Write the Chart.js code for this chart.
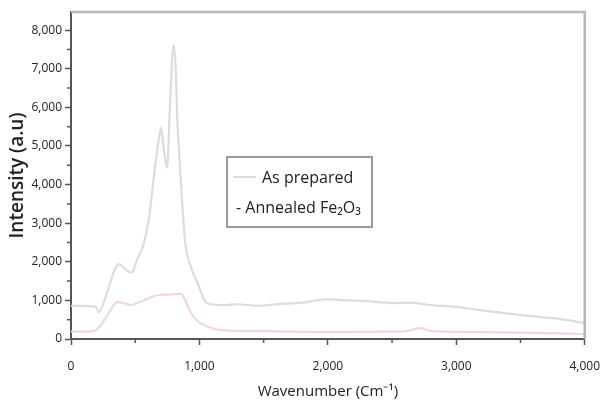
<!DOCTYPE html>
<html>
<head>
<meta charset="utf-8">
<script src="https://cdn.jsdelivr.net/npm/chart.js@4"></script>
<style>
  html, body { margin: 0; padding: 0; background: #fff; }
  #wrap { width: 614px; height: 406px; }
</style>
</head>
<body>
<div id="wrap"><canvas id="spectrum" width="614" height="406"></canvas></div>
<script>
// As prepared
const asPrepX = [0, 100, 190, 216, 260, 300, 340, 374, 420, 471, 520, 565, 610, 656, 690, 702, 720, 748, 770, 790, 800, 815, 830, 847, 870, 893, 930, 985, 1038, 1084, 1200, 1300, 1450, 1600, 1800, 1992, 2150, 2298, 2496, 2641, 2800, 2992, 3200, 3504, 3800, 4000];
const asPrepY = [860, 860, 840, 690, 1000, 1400, 1800, 1940, 1820, 1720, 2100, 2450, 3200, 4500, 5300, 5470, 5000, 4430, 6000, 7400, 7620, 7000, 5500, 4560, 3300, 2400, 1900, 1450, 1010, 900, 880, 900, 860, 900, 940, 1030, 1000, 985, 930, 940, 880, 830, 740, 620, 520, 410];

// Annealed Fe2O3
const annealX = [0, 100, 170, 230, 300, 360, 420, 466, 550, 680, 760, 855, 890, 930, 970, 1008, 1115, 1300, 1600, 2000, 2400, 2600, 2718, 2800, 3200, 3600, 4000];
const annealY = [190, 190, 200, 350, 700, 960, 920, 880, 980, 1140, 1150, 1170, 1000, 700, 520, 410, 260, 210, 200, 180, 190, 200, 280, 210, 180, 160, 130];

const xTicks = [0, 1000, 2000, 3000, 4000];
const yTicks = [0, 1000, 2000, 3000, 4000, 5000, 6000, 7000, 8000];
const xMinor = [500, 1500, 2500, 3500];
const yMinor = [500, 1500, 2500, 3500, 4500, 5500, 6500, 7500];

const seriesNames = ['As prepared', 'Annealed Fe\u2082O\u2083'];

function toPoints(xs, ys) {
  return xs.map((x, i) => ({ x: x, y: ys[i] }));
}

const fmt = v => Number(v).toLocaleString('en-US');

// frame, minor ticks and the boxed legend
const extras = {
  id: 'extras',
  afterDraw(chart) {
    const { ctx, chartArea: a, scales } = chart;
    ctx.save();

    ctx.strokeStyle = '#b8b8b8';
    ctx.lineWidth = 2.5;
    ctx.beginPath();
    ctx.moveTo(a.left, a.top);
    ctx.lineTo(a.right, a.top);
    ctx.lineTo(a.right, a.bottom);
    ctx.stroke();

    ctx.strokeStyle = '#555';
    ctx.lineWidth = 1.5;
    ctx.beginPath();
    xMinor.forEach(v => {
      const px = scales.x.getPixelForValue(v);
      ctx.moveTo(px, a.bottom);
      ctx.lineTo(px, a.bottom + 4);
    });
    yMinor.forEach(v => {
      const py = scales.y.getPixelForValue(v);
      ctx.moveTo(a.left, py);
      ctx.lineTo(a.left - 4, py);
    });
    ctx.stroke();

    // legend box
    const bx = 227, by = 157, bw = 145, bh = 70;
    ctx.strokeStyle = '#9a9a9a';
    ctx.lineWidth = 2;
    ctx.strokeRect(bx, by, bw, bh);

    ctx.font = '16px "Open Sans", "DejaVu Sans", sans-serif';
    ctx.fillStyle = '#222';
    ctx.textBaseline = 'middle';
    ctx.textAlign = 'left';

    ctx.strokeStyle = chart.data.datasets[0].borderColor;
    ctx.lineWidth = 2;
    ctx.beginPath();
    ctx.moveTo(bx + 6, by + 20);
    ctx.lineTo(bx + 29, by + 20);
    ctx.stroke();
    ctx.fillText(chart.data.datasets[0].label, bx + 35, by + 21);

    ctx.fillText('- ' + chart.data.datasets[1].label, bx + 9, by + 51);

    ctx.restore();
  }
};

new Chart(document.getElementById('spectrum'), {
  type: 'line',
  data: {
    datasets: [
      {
        label: seriesNames[0],
        data: toPoints(asPrepX, asPrepY),
        borderColor: '#dcdcdc',
        borderWidth: 2.2,
        pointRadius: 0,
        cubicInterpolationMode: 'monotone'
      },
      {
        label: seriesNames[1],
        data: toPoints(annealX, annealY),
        borderColor: '#f0d8d8',
        borderWidth: 2.2,
        pointRadius: 0,
        cubicInterpolationMode: 'monotone'
      }
    ]
  },
  options: {
    responsive: false,
    animation: false,
    layout: { padding: { left: 0, top: 12, right: 17, bottom: 0 } },
    plugins: {
      legend: { display: false },
      tooltip: { enabled: false }
    },
    scales: {
      x: {
        type: 'linear',
        min: 0,
        max: 4000,
        afterFit: s => { s.height = 67; },
        afterBuildTicks: s => { s.ticks = xTicks.map(v => ({ value: v })); },
        border: { color: '#555', width: 2 },
        grid: { drawOnChartArea: false, tickLength: 6, tickColor: '#555', tickWidth: 1.5 },
        ticks: {
          padding: 14,
          color: '#222',
          font: { family: '"Open Sans", sans-serif', size: 12 },
          callback: v => fmt(v),
          maxRotation: 0
        },
        title: {
          display: true,
          text: 'Wavenumber (Cm\u207B\u00B9)',
          color: '#222',
          font: { family: '"Open Sans", sans-serif', size: 15 },
          padding: { top: 0, bottom: 5 }
        }
      },
      y: {
        min: 0,
        max: 8470,
        afterFit: s => { s.width = 71; },
        afterBuildTicks: s => { s.ticks = yTicks.map(v => ({ value: v })); },
        border: { color: '#555', width: 2 },
        grid: { drawOnChartArea: false, tickLength: 6, tickColor: '#555', tickWidth: 1.5 },
        ticks: {
          padding: 3,
          color: '#222',
          font: { family: '"Open Sans", sans-serif', size: 12 },
          callback: v => fmt(v)
        },
        title: {
          display: true,
          text: 'Intensity (a.u)',
          color: '#222',
          font: { family: '"Open Sans", sans-serif', size: 19, weight: '600' },
          padding: { top: 6, bottom: 0 }
        }
      }
    }
  },
  plugins: [extras]
});
</script>
</body>
</html>
